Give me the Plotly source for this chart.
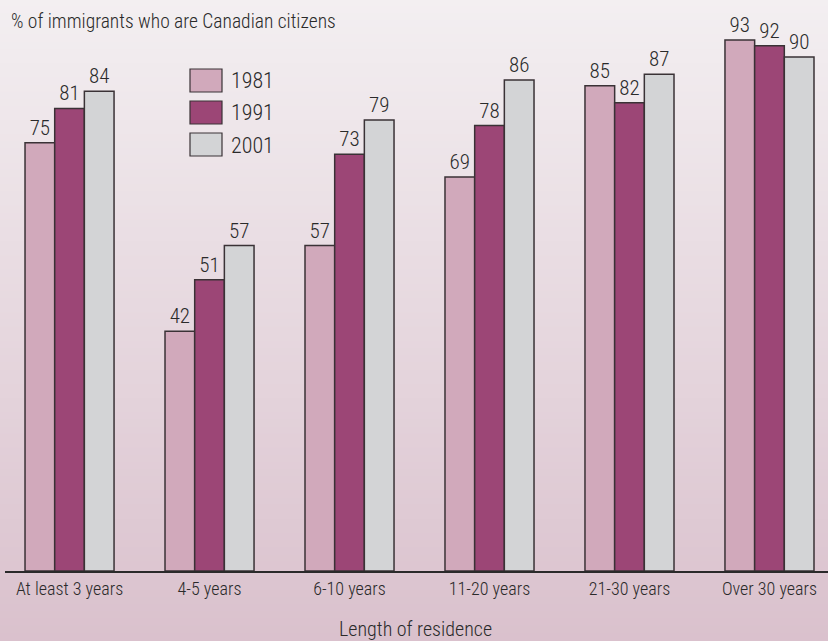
import plotly.graph_objects as go

categories = ["At least 3 years", "4-5 years", "6-10 years", "11-20 years", "21-30 years", "Over 30 years"]
years = ["1981", "1991", "2001"]
values_1981 = [75, 42, 57, 69, 85, 93]
values_1991 = [81, 51, 73, 78, 82, 92]
values_2001 = [84, 57, 79, 86, 87, 90]

colors = ["#d1a9bb", "#9c4676", "#d3d4d6"]
series = [values_1981, values_1991, values_2001]

W, H = 828, 641
ml, mr, mt, mb = 5, 0, 0, 70
FONT = "Roboto Condensed, Liberation Sans Narrow, sans-serif"
TXT = "#2a2a2a"
WEIGHT = 300

fig = go.Figure()
for name, vals, col in zip(years, series, colors):
    fig.add_trace(go.Bar(
        x=categories, y=vals, name=name,
        marker=dict(color=col, line=dict(color="#3a3236", width=1.5)),
        text=[str(v) for v in vals], textposition="outside",
        textfont=dict(size=21, color=TXT, family=FONT, weight=WEIGHT),
        cliponaxis=False, showlegend=False, hoverinfo="skip",
    ))

# vertical gradient background as thin bands
shapes = []
n = 90
plot_h = H - mt - mb
ybot = -mb / plot_h
ytop = 1 + mt / plot_h
c0 = (0xf3, 0xef, 0xf1)
c1 = (0xda, 0xc1, 0xcd)
for i in range(n):
    t = i / (n - 1)
    r = round(c0[0] + (c1[0] - c0[0]) * t)
    g = round(c0[1] + (c1[1] - c0[1]) * t)
    b = round(c0[2] + (c1[2] - c0[2]) * t)
    y1 = ytop - (ytop - ybot) * i / n
    y0 = ytop - (ytop - ybot) * (i + 1) / n
    shapes.append(dict(type="rect", xref="paper", yref="paper",
                       x0=-0.02, x1=1.02, y0=y0 - 0.002, y1=y1 + 0.002,
                       fillcolor=f"rgb({r},{g},{b})", line=dict(width=0), layer="below"))

plot_w = W - ml - mr
def px_to_paper_x(px):
    return (px - ml) / plot_w
def px_to_paper_y(py):
    return (H - mb - py) / plot_h

# manual legend (large swatches)
annotations = []
for i, (name, col) in enumerate(zip(years, colors)):
    top = 69 + i * 32
    shapes.append(dict(type="rect", xref="paper", yref="paper",
                       x0=px_to_paper_x(190), x1=px_to_paper_x(222),
                       y0=px_to_paper_y(top + 23), y1=px_to_paper_y(top),
                       fillcolor=col, line=dict(color="#3a3236", width=1.2)))
    annotations.append(dict(xref="paper", yref="paper", x=px_to_paper_x(229),
                            y=px_to_paper_y(top + 12), text=name, showarrow=False,
                            xanchor="left", yanchor="middle",
                            font=dict(size=22, color=TXT, family=FONT, weight=WEIGHT)))

annotations.append(dict(xref="paper", yref="paper", x=px_to_paper_x(9), y=px_to_paper_y(21),
                        text="% of immigrants who are Canadian citizens", showarrow=False,
                        xanchor="left", yanchor="middle",
                        font=dict(size=19.5, color=TXT, family=FONT, weight=WEIGHT)))
annotations.append(dict(xref="paper", yref="paper", x=px_to_paper_x(415), y=px_to_paper_y(629),
                        text="Length of residence", showarrow=False,
                        xanchor="center", yanchor="middle",
                        font=dict(size=20, color=TXT, family=FONT, weight=WEIGHT)))

fig.update_layout(
    width=W, height=H,
    margin=dict(l=ml, r=mr, t=mt, b=mb),
    paper_bgcolor="#e6d8df", plot_bgcolor="rgba(0,0,0,0)",
    barmode="group", bargap=0.364, bargroupgap=0,
    shapes=shapes, annotations=annotations, showlegend=False,
    xaxis=dict(range=[-0.461, 5.418], showline=True, linecolor="#2a2a2a", linewidth=2,
               ticks="", showgrid=False, zeroline=False,
               tickfont=dict(size=18, color=TXT, family=FONT, weight=WEIGHT)),
    yaxis=dict(range=[0, 100], visible=False, showgrid=False, zeroline=False),
    font=dict(family=FONT),
)

fig.write_html("out.html", config={"displayModeBar": False},
               post_script="document.body.style.margin='0';document.body.style.overflow='hidden';")
